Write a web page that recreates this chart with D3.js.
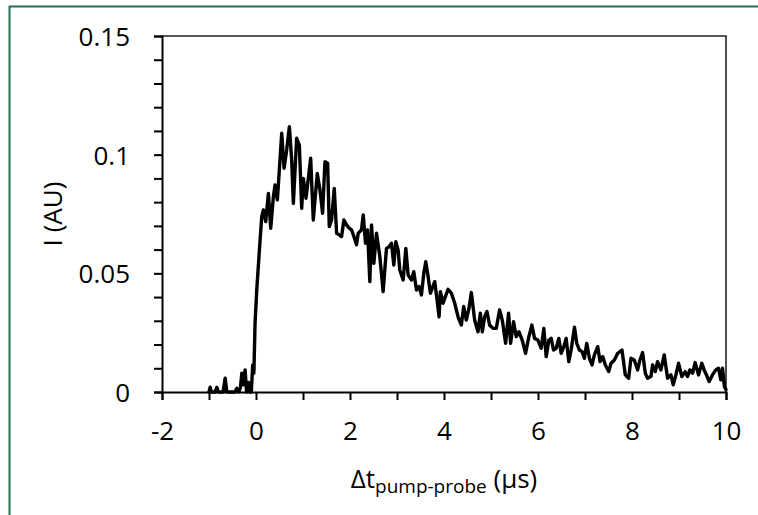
<!DOCTYPE html>
<html>
<head>
<meta charset="utf-8">
<script src="https://cdn.jsdelivr.net/npm/d3@7"></script>
<style>
  html, body { margin: 0; padding: 0; background: #fff; }
  svg text { font-family: "Open Sans", "Noto Sans", sans-serif; fill: #000; }
</style>
</head>
<body>
<svg id="chart"></svg>
<script>
const delayUs = [
  -1.00, -0.975, -0.95, -0.87, -0.833, -0.80, -0.70, -0.656, -0.62, -0.45,
  -0.408, -0.37, -0.33, -0.302, -0.27, -0.232, -0.20, -0.16, -0.13, -0.10,
  -0.07, -0.045, -0.02, 0.016, 0.073, 0.122, 0.158, 0.207, 0.264, 0.313,
  0.370, 0.405, 0.455, 0.547, 0.597, 0.653, 0.710, 0.759, 0.795, 0.865,
  0.922, 0.972, 1.007, 1.064, 1.163, 1.219, 1.304, 1.361, 1.417, 1.467,
  1.524, 1.559, 1.608, 1.665, 1.715, 1.771, 1.821, 1.870, 1.927, 1.984,
  2.033, 2.083, 2.139, 2.175, 2.245, 2.281, 2.330, 2.373, 2.422, 2.458,
  2.507, 2.564, 2.635, 2.705, 2.776, 2.833, 2.882, 2.932, 2.974, 3.024,
  3.059, 3.131, 3.188, 3.237, 3.308, 3.357, 3.414, 3.471, 3.520, 3.570,
  3.612, 3.662, 3.711, 3.754, 3.803, 3.853, 3.895, 3.923, 3.980, 4.030,
  4.086, 4.157, 4.228, 4.299, 4.369, 4.419, 4.475, 4.532, 4.582, 4.652,
  4.723, 4.773, 4.815, 4.865, 4.914, 4.971, 5.042, 5.112, 5.183, 5.240,
  5.311, 5.374, 5.417, 5.480, 5.537, 5.594, 5.664, 5.735, 5.806, 5.870,
  5.926, 5.997, 6.068, 6.124, 6.174, 6.231, 6.280, 6.330, 6.386, 6.443,
  6.492, 6.549, 6.599, 6.655, 6.705, 6.776, 6.825, 6.881, 6.938, 6.987,
  7.037, 7.094, 7.150, 7.200, 7.271, 7.320, 7.377, 7.433, 7.504, 7.554,
  7.624, 7.695, 7.787, 7.858, 7.929, 7.978, 8.049, 8.120, 8.169, 8.226,
  8.283, 8.332, 8.403, 8.438, 8.495, 8.544, 8.615, 8.686, 8.757, 8.828,
  8.877, 8.934, 8.990, 9.061, 9.132, 9.181, 9.231, 9.288, 9.344, 9.415,
  9.486, 9.535, 9.585, 9.641, 9.712, 9.783, 9.840, 9.889, 9.925, 9.967,
  10.0
];

const intensityAU = [
  0, 0.002, 0, 0, 0.002, 0, 0, 0.0058, 0, 0,
  0.0016, 0, 0.002, 0.0079, 0.003, 0.0093, 0, 0.004, 0, 0,
  0.0114, 0.008, 0.029, 0.043, 0.060, 0.0739, 0.0767, 0.0718, 0.0837, 0.069,
  0.0823, 0.0872, 0.0809, 0.109, 0.0943, 0.102, 0.1118, 0.0978, 0.0795, 0.1069,
  0.104, 0.0774, 0.090, 0.0816, 0.0985, 0.0725, 0.0921, 0.0851, 0.0753, 0.097,
  0.0964, 0.0697, 0.0725, 0.0858, 0.0669, 0.0662, 0.0655, 0.0725, 0.0704, 0.069,
  0.0683, 0.0655, 0.062, 0.0669, 0.0683, 0.0746, 0.0627, 0.0683, 0.0465, 0.0704,
  0.0542, 0.0669, 0.057, 0.0423, 0.0605, 0.0612, 0.0627, 0.0535, 0.0633, 0.0598,
  0.0514, 0.0472, 0.0605, 0.0493, 0.0472, 0.0507, 0.043, 0.0444, 0.0409, 0.05,
  0.0549, 0.0486, 0.0416, 0.044, 0.0465, 0.0388, 0.0317, 0.0423, 0.0374, 0.0402,
  0.0433, 0.0416, 0.0374, 0.0317, 0.0282, 0.036, 0.0303, 0.0353, 0.0419, 0.0303,
  0.0254, 0.0332, 0.0254, 0.0317, 0.0339, 0.0282, 0.0268, 0.0268, 0.0346, 0.0303,
  0.0205, 0.0332, 0.0205, 0.0296, 0.0233, 0.0254, 0.0219, 0.0163, 0.0233, 0.0282,
  0.0226, 0.0219, 0.0184, 0.0268, 0.0149, 0.0219, 0.0226, 0.0177, 0.0184, 0.0226,
  0.0163, 0.0191, 0.0226, 0.0128, 0.0177, 0.0273, 0.0205, 0.0177, 0.017, 0.0142,
  0.0205, 0.0142, 0.0114, 0.0156, 0.0191, 0.0128, 0.0149, 0.0114, 0.0086, 0.0121,
  0.0135, 0.0163, 0.0177, 0.0072, 0.0058, 0.0142, 0.0135, 0.0093, 0.0135, 0.0166,
  0.0079, 0.0058, 0.0065, 0.0114, 0.0086, 0.0128, 0.0093, 0.0156, 0.0058, 0.0072,
  0.003, 0.0072, 0.0121, 0.0065, 0.0086, 0.0065, 0.0093, 0.0079, 0.0124, 0.0072,
  0.0121, 0.0093, 0.0072, 0.0044, 0.0072, 0.0093, 0.01, 0.0051, 0.01, 0.0022,
  0.001
];

const xDomain = [-2, 10];
const yDomain = [0, 0.15];
const xMajorTicks = [-2, 0, 2, 4, 6, 8, 10];
const yMajorTicks = [0, 0.05, 0.1, 0.15];
const yTickLabels = ['0', '0.05', '0.1', '0.15'];

const config = {
  width: 758,
  height: 515,
  margin: { top: 36, right: 32, bottom: 123, left: 162 }
};

const svg = d3.select('#chart')
  .attr('width', config.width)
  .attr('height', config.height);

// outer green frame (right/bottom edges fall outside the picture)
svg.append('path')
  .attr('d', `M9.5,${config.height + 5} V6.5 H${config.width + 5}`)
  .attr('fill', 'none')
  .attr('stroke', '#23704d')
  .attr('stroke-width', 2);

const innerW = config.width - config.margin.left - config.margin.right;
const innerH = config.height - config.margin.top - config.margin.bottom;

const chart = svg.append('g')
  .attr('transform', `translate(${config.margin.left}, ${config.margin.top})`);

const x = d3.scaleLinear().domain(xDomain).range([0, innerW]);
const y = d3.scaleLinear().domain(yDomain).range([innerH, 0]);

// plot area frame (top and right)
chart.append('path')
  .attr('d', `M0,0 H${innerW} V${innerH}`)
  .attr('fill', 'none')
  .attr('stroke', '#222')
  .attr('stroke-width', 1.6);

const line = d3.line()
  .x((d, i) => x(delayUs[i]))
  .y(d => y(d));

chart.append('path')
  .datum(intensityAU)
  .attr('d', line)
  .attr('fill', 'none')
  .attr('stroke', '#000')
  .attr('stroke-width', 3.4)
  .attr('stroke-linejoin', 'round')
  .attr('stroke-linecap', 'round');

// y axis: minor ticks every 0.01, labels on majors
const yTicks = d3.range(16).map(i => i / 100);
const yAxis = chart.append('g')
  .call(d3.axisLeft(y)
    .tickValues(yTicks)
    .tickSize(8)
    .tickPadding(24)
    .tickFormat(d => {
      const k = yMajorTicks.findIndex(m => Math.abs(m - d) < 1e-9);
      return k >= 0 ? yTickLabels[k] : '';
    }));

// x axis: ticks every 1 µs, labels every 2
const xAxis = chart.append('g')
  .attr('transform', `translate(0, ${innerH})`)
  .call(d3.axisBottom(x)
    .tickValues(d3.range(-2, 11))
    .tickSize(8)
    .tickPadding(22)
    .tickFormat(d => xMajorTicks.includes(d) ? String(d) : ''));

[xAxis, yAxis].forEach(ax => {
  ax.select('.domain').attr('stroke', '#000').attr('stroke-width', 2);
  ax.selectAll('.tick line').attr('stroke', '#000').attr('stroke-width', 2);
  ax.selectAll('.tick text')
    .attr('font-size', 26)
    .attr('font-family', '"Open Sans", "Noto Sans", sans-serif');
});
yAxis.selectAll('.tick text').attr('dy', '0.36em');

// axis titles
const xTitle = svg.append('text')
  .attr('x', config.margin.left + innerW / 2)
  .attr('y', 488)
  .attr('text-anchor', 'middle')
  .attr('font-size', 26);
xTitle.append('tspan').text('\u0394t');
xTitle.append('tspan').attr('font-size', 19).attr('dy', 5).text('pump-probe');
xTitle.append('tspan').attr('dy', -5).text(' (\u00b5s)');

svg.append('text')
  .attr('transform', `translate(62, ${config.margin.top + innerH / 2}) rotate(-90)`)
  .attr('text-anchor', 'middle')
  .attr('font-size', 26)
  .text('I (AU)');
</script>
</body>
</html>
